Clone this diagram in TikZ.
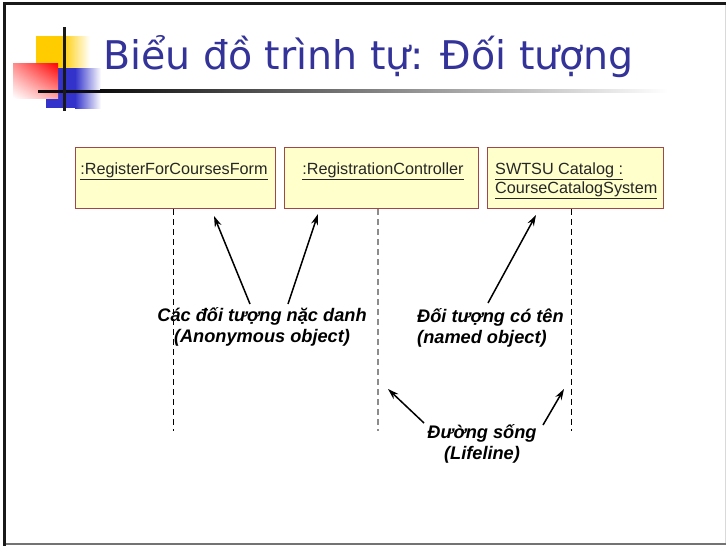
\documentclass[tikz,border=0pt]{standalone}
\usepackage{fontspec}
\setmainfont{Liberation Sans}
\newfontfamily\titlefont{DejaVu Sans}
\usetikzlibrary{arrows.meta,shadings}
\definecolor{titleblue}{HTML}{333399}
\definecolor{boxfill}{HTML}{FFFFCC}
\definecolor{boxline}{HTML}{A04848}
\definecolor{decoyellow}{HTML}{FFCC00}
\definecolor{decoblue}{HTML}{3333CC}
\tikzset{
  objbox/.style={draw=boxline, line width=1.3pt, fill=boxfill, minimum height=61pt, inner sep=0pt, anchor=north west},
  objtext/.style={font=\fontsize{16.2}{19}\selectfont, inner sep=0pt, text=black!85},
  lifeblack/.style={draw=black, line width=1pt, dash pattern=on 6pt off 4pt},
  lifegray/.style={draw=black!45, line width=1.6pt, dash pattern=on 6pt off 4pt},
  note/.style={font=\fontsize{18.2}{21.5}\selectfont\bfseries\itshape, inner sep=0pt},
  pointer/.style={draw=black, line width=1.5pt, -{Stealth[length=11pt,width=7pt]}},
}
\begin{document}
\begin{tikzpicture}[x=1pt,y=-1pt]
\useasboundingbox (0,0) rectangle (726,546);
\fill[white] (0,0) rectangle (726,546);
% slide frame
\draw[black!15, line width=1pt] (725,3) -- (725,544);
\draw[black!55, line width=2pt] (3,544) -- (726,544);
\draw[black!90, line width=3pt] (4.5,546) -- (4.5,3.5) -- (726,3.5);
% decoration
\fill[decoyellow] (36,36) rectangle (62,70);
\shade[left color=decoyellow, right color=white] (62,36) rectangle (90,70);
\fill[decoblue] (46,68) rectangle (75,108);
\shade[left color=decoblue, right color=white] (75,68) rectangle (101,108);
\shade[upper right=red, upper left=red!45, lower right=red!35, lower left=white] (13,63) rectangle (58,98);
\shade[left color=black!95, right color=white] (100,89.5) rectangle (668,92.5);
\fill[black!95] (38,89.5) rectangle (100,92.5);
\fill[black!90] (62.5,27) rectangle (65.5,111);
% title
\node[anchor=base west, inner sep=0pt, text=titleblue, font=\titlefont\fontsize{39.5}{44}\selectfont] (title) at (103,69) {Biểu đồ trình tự: Đối tượng};
% object boxes
\node[objbox, minimum width=200pt] (b1) at (75,147) {};
\node[objbox, minimum width=194pt] (b2) at (284,147) {};
\node[objbox, minimum width=176pt] (b3) at (487,147) {};
\node[objtext, anchor=base] (t1) at (174,174) {\underline{:RegisterForCoursesForm}};
\node[objtext, anchor=base] (t2) at (383,174) {\underline{:RegistrationController}};
\node[objtext, anchor=base west] (t3a) at (495,174) {\underline{SWTSU Catalog :}};
\node[objtext, anchor=base west] (t3b) at (495,193) {\underline{CourseCatalogSystem}};
% lifelines
\coordinate (l1) at (173,431);
\coordinate (l2) at (378,431);
\coordinate (l3) at (571,431);
\draw[lifeblack] (b1.south -| l1) -- (l1);
\draw[lifegray] (b2.south -| l2) -- (l2);
\draw[lifeblack] (b3.south -| l3) -- (l3);
% notes
\node[note, align=center] (n1) at (262,327) {Các đối tượng nặc danh\\(Anonymous object)};
\node[note, align=left, anchor=west] (n2) at (417,328) {Đối tượng có tên\\(named object)};
\node[note, align=center] (n3) at (482,444) {Đường sống\\(Lifeline)};
% pointers
\coordinate (a1s) at (250,304);
\coordinate (a1e) at (214,216);
\coordinate (a2s) at (288,304);
\coordinate (a2e) at (318,214);
\coordinate (a3s) at (488,303);
\coordinate (a3e) at (536,215);
\coordinate (a4s) at (424,423);
\coordinate (a4e) at (388,389);
\coordinate (a5s) at (543,425);
\coordinate (a5e) at (564,389);
\draw[pointer] (a1s) -- (a1e);
\draw[pointer] (a2s) -- (a2e);
\draw[pointer] (a3s) -- (a3e);
\draw[pointer] (a4s) -- (a4e);
\draw[pointer] (a5s) -- (a5e);
\end{tikzpicture}
\end{document}
